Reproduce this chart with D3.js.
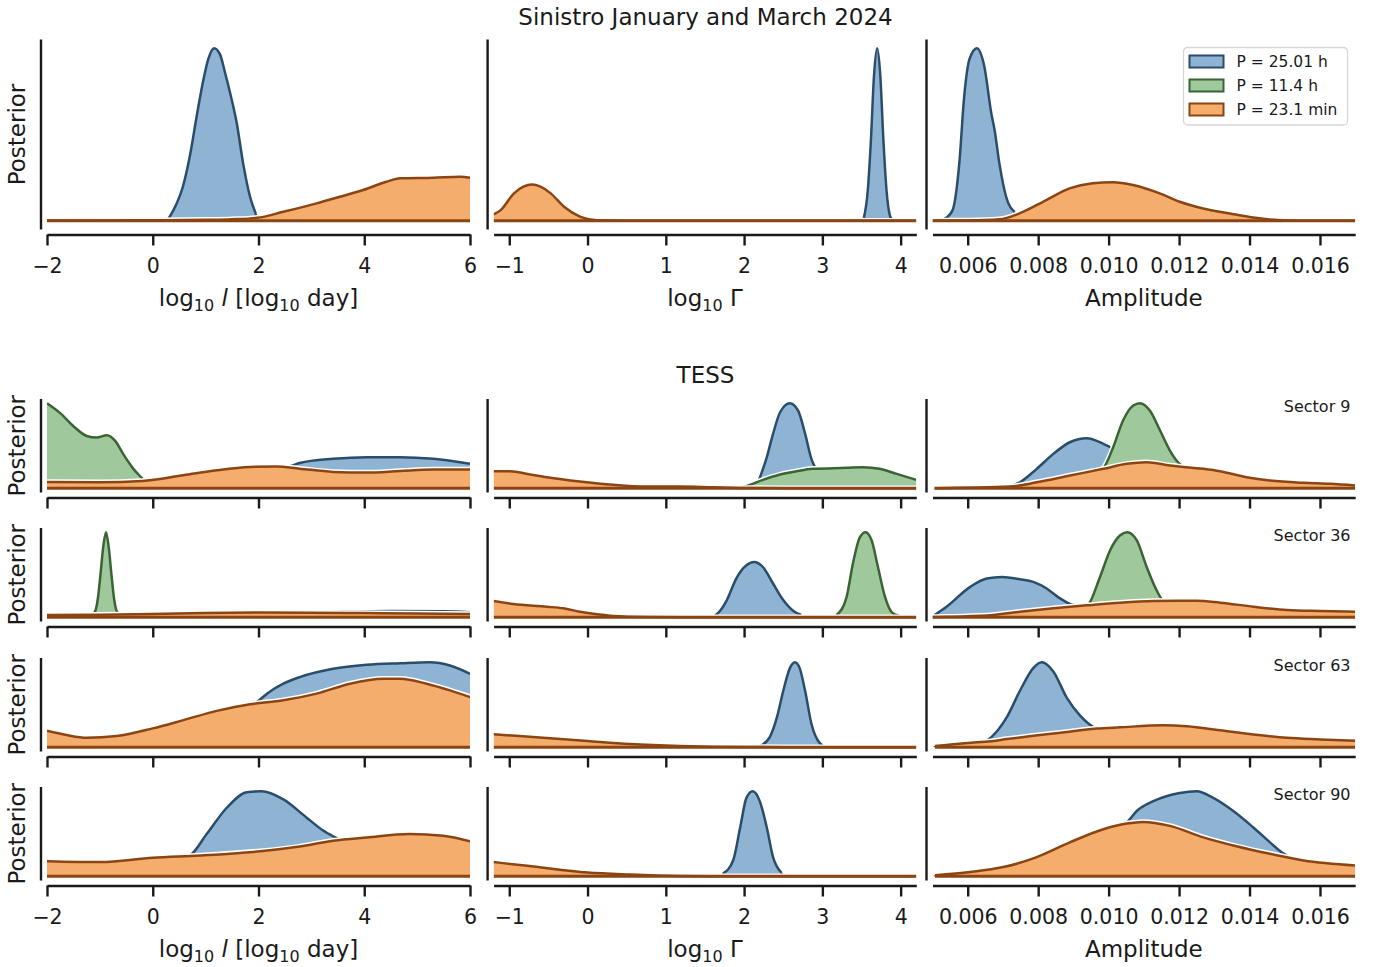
<!DOCTYPE html>
<html>
<head>
<meta charset="utf-8">
<script src="https://cdn.jsdelivr.net/npm/d3@7"></script>
<style>
body { margin: 0; background: #fff; }
svg { font-family: "DejaVu Sans", sans-serif; }
text { white-space: pre; }
</style>
</head>
<body>
<svg id="chart" width="1374" height="967"></svg>
<script>
// ---- axis setup ----
var lenTicks = [-2, 0, 2, 4, 6];
var gamTicks = [-1, 0, 1, 2, 3, 4];
var ampTicks = [0.006, 0.008, 0.010, 0.012, 0.014, 0.016];
var lenDomain = [-2, 6];
var gamDomain = [-1.2, 4.2];
var ampDomain = [0.005, 0.017];

var periods = ["P = 25.01 h", "P = 11.4 h", "P = 23.1 min"];
var sectors = [null, "Sector 9", "Sector 36", "Sector 63", "Sector 90"];

// ---- posterior densities [x, density] (arbitrary units) ----
// Sinistro
var sinLenB = [[0.29,1.5],[0.45,17],[0.57,34],[0.70,64],[0.83,104],[0.96,141],[1.05,161],[1.16,172],[1.27,166],[1.37,147],[1.46,128],[1.59,97],[1.71,57],[1.84,24],[1.95,7]];
var sinLenO = [[-2,0.3],[-1,0.3],[0,0.5],[1,1],[1.5,1.6],[1.97,3],[2.47,9],[3.1,17.4],[3.54,24],[3.98,30.7],[4.42,39],[4.68,42.4],[5.31,43],[5.81,44],[6,43]];
var sinGamB = [[3.53,3],[3.58,30],[3.62,80],[3.66,145],[3.70,172],[3.74,145],[3.78,80],[3.82,30],[3.86,6],[3.88,2]];
var sinGamO = [[-1.2,6.4],[-1.11,10.7],[-0.94,27.4],[-0.82,34],[-0.71,36.3],[-0.6,34],[-0.47,27.4],[-0.30,14],[-0.09,4],[0.12,0.7],[0.5,0.2],[2,0.1],[4.2,0.1]];
var sinAmpB = [[0.00534,2],[0.00557,10.7],[0.00576,57],[0.0059,124],[0.00605,161],[0.00626,172],[0.00647,154],[0.00667,107],[0.00676,91],[0.0069,57],[0.00709,24],[0.00733,9]];
var sinAmpO = [[0.005,0.2],[0.006,0.4],[0.0069,1.5],[0.00747,7.4],[0.00823,20.7],[0.00889,32.3],[0.00955,37.4],[0.01012,38.4],[0.01069,35.7],[0.01145,27.4],[0.01202,19],[0.01268,12.4],[0.01344,7.4],[0.0141,3.4],[0.0148,0.8],[0.0155,0.2],[0.017,0.1]];

// TESS sector 9
var s9LenB = [[2.3,20],[2.6,22.5],[2.78,25.7],[3.41,30],[4.05,31.7],[4.68,31.7],[5.31,30],[6,25]];
var s9LenG = [[-2,86.7],[-1.75,76.6],[-1.5,63.3],[-1.25,53.3],[-1.06,51.7],[-0.87,54],[-0.71,48.3],[-0.56,35],[-0.37,20],[-0.2,10],[-0.15,7]];
var s9LenO = [[-2,6.5],[-1,6],[-0.2,7.5],[0.58,13.3],[1.21,18.3],[1.84,21.7],[2.34,22.3],[2.78,20],[3.41,16.7],[4.05,16],[4.68,17.6],[5.31,19],[6,19]];
var s9GamB = [[2.18,6],[2.29,31],[2.37,54.4],[2.46,76],[2.585,85],[2.69,77.7],[2.78,54.4],[2.86,29.4],[2.9,22],[2.95,15]];
var s9GamG = [[1.9,0.5],[2.0,1.5],[2.24,8.4],[2.46,13.7],[2.67,17],[2.88,19.4],[3.31,20.4],[3.52,21],[3.73,19.4],[3.95,14.4],[4.2,8.4]];
var s9GamO = [[-1.2,17],[-0.99,17],[-0.75,14],[-0.52,11],[-0.1,6.7],[0.33,3.4],[0.75,1.7],[1.18,1.7],[1.6,1],[2.0,0.3],[2.5,0.1],[4.2,0.1]];
var s9AmpB = [[0.0065,0.5],[0.0072,2],[0.00748,6],[0.00796,19.4],[0.00843,34.4],[0.0089,46],[0.00938,50],[0.00985,44.4],[0.01013,39.4],[0.0105,30],[0.011,24],[0.0115,20]];
var s9AmpG = [[0.0097,17],[0.00985,20],[0.01013,41],[0.01041,67.7],[0.0107,82.7],[0.01089,85],[0.01117,77.7],[0.01146,57.7],[0.01174,37.7],[0.01197,26],[0.0121,22]];
var s9AmpO = [[0.00506,0.1],[0.0072,1.7],[0.00796,6],[0.0089,12.7],[0.00985,19.4],[0.01051,24.4],[0.01108,26],[0.01174,22.7],[0.01269,19.4],[0.01316,17],[0.01392,11],[0.01458,7.7],[0.01553,5.4],[0.01629,4.4],[0.017,2.7]];

// TESS sector 36
var s36LenB = [[2.5,4.5],[3.5,5.6],[4.5,6.2],[5.5,5.9],[6,5]];
var s36LenG = [[-1.2,2],[-1.1,5],[-1.04,18],[-0.99,42],[-0.935,71],[-0.884,85],[-0.835,71],[-0.78,42],[-0.73,18],[-0.67,5],[-0.55,2]];
var s36LenO = [[-2,2.2],[-1,2.5],[0,3.2],[1,4.2],[2,4.7],[3,4.6],[4,4.2],[5,3.8],[6,3.3]];
var s36GamB = [[1.63,1.5],[1.70,7],[1.78,17.3],[1.90,39],[2.03,52.3],[2.125,55.6],[2.24,50.6],[2.37,34],[2.50,17.3],[2.63,6.3],[2.73,2.3]];
var s36GamG = [[3.18,2],[3.31,20.6],[3.39,54],[3.48,80.6],[3.55,85.6],[3.63,77.3],[3.71,50.6],[3.80,20.6],[3.90,4],[3.98,1.6]];
var s36GamO = [[-1.2,16.3],[-0.95,13.3],[-0.52,10.6],[-0.31,9],[-0.1,5.6],[0.12,3],[0.33,1.3],[0.75,0.3],[1.2,0.1],[4.2,0.1]];
var s36AmpB = [[0.00506,2.3],[0.0054,10.6],[0.00607,30.6],[0.00654,39],[0.00697,40.6],[0.00748,38.3],[0.00786,35.6],[0.00824,29],[0.00862,19],[0.009,12.3],[0.00938,11.3],[0.0097,9]];
var s36AmpG = [[0.0093,10],[0.00942,12.3],[0.009755,40.6],[0.01004,67.3],[0.01032,82.3],[0.01053,85.6],[0.0108,77.3],[0.01108,50.6],[0.01136,27.3],[0.01155,16.6],[0.0117,15]];
var s36AmpO = [[0.005,0.3],[0.0054,0.5],[0.00654,1.7],[0.00748,5.6],[0.00843,9],[0.00938,12],[0.01032,14.7],[0.01127,16.3],[0.0125,16.6],[0.01316,14.7],[0.01411,10.6],[0.01506,7.3],[0.016,6.3],[0.017,5.6]];

// TESS sector 63
var s63LenB = [[1.8,42],[1.97,45.6],[2.16,54],[2.47,64],[2.78,70.6],[3.41,79],[4.05,83],[4.68,84.6],[5.24,85.6],[5.62,82.3],[6,74]];
var s63LenO = [[-2,16.6],[-1.63,12.3],[-1.25,9.6],[-0.68,11.3],[0,19],[0.58,27.3],[1.21,36.6],[1.84,43.3],[2.47,47.3],[3.10,54],[3.73,64],[4.36,69],[4.68,69],[5.18,64],[5.62,57.3],[6,50.6]];
var s63GamB = [[2.2,1],[2.33,10.6],[2.42,30.6],[2.50,57.3],[2.585,80.6],[2.65,86.6],[2.71,80.6],[2.78,57.3],[2.86,24],[2.97,4],[3.0,2]];
var s63GamO = [[-1.2,13.3],[-0.74,10.6],[0,6.3],[0.54,3.3],[1.18,1.3],[1.6,0.6],[2.0,0.2],[2.5,0.1],[4.2,0.1]];
var s63AmpB = [[0.00649,5.6],[0.00668,10.6],[0.00711,30.6],[0.00748,57.3],[0.00786,80.6],[0.0081,86.6],[0.00843,77.3],[0.00881,50.6],[0.00919,32.3],[0.00966,19],[0.0099,17]];
var s63AmpO = [[0.00507,1.3],[0.00611,4.6],[0.00649,5.6],[0.00711,8.3],[0.00748,10],[0.00786,11.7],[0.00843,14],[0.00881,15.6],[0.00919,17.3],[0.00966,19],[0.01032,20.3],[0.01155,22.3],[0.01222,21.3],[0.01316,17.3],[0.01411,13],[0.01506,9.6],[0.016,8],[0.017,6.6]];

// TESS sector 90
var s90LenB = [[0.6,19.5],[0.70,21],[1.02,42.7],[1.40,69.3],[1.78,85],[2.06,86],[2.47,77.7],[2.91,59.3],[3.23,46],[3.51,37.7],[3.6,35]];
var s90LenO = [[-2,15.3],[-0.99,14.3],[0,18.7],[0.89,21],[2.03,25.3],[2.78,30],[3.41,36],[4.05,39.3],[4.86,42.7],[5.49,41],[6,35.3]];
var s90GamB = [[1.73,2.7],[1.86,16],[1.95,49.3],[2.03,79.3],[2.11,86],[2.20,76],[2.29,49.3],[2.37,19.3],[2.48,3.3]];
var s90GamO = [[-1.2,14.3],[-0.74,10.3],[0,3.7],[0.54,1.7],[1.18,0.3],[1.6,0.1],[4.2,0.1]];
var s90AmpB = [[0.0104,52],[0.01051,54.3],[0.0108,66],[0.01127,76],[0.01202,84.3],[0.0125,86],[0.01297,79.3],[0.01354,66],[0.01411,49.3],[0.01458,34.3],[0.01491,24.3],[0.0151,20]];
var s90AmpO = [[0.00507,1],[0.00607,4.3],[0.00701,9.3],[0.00796,19.3],[0.0089,34.3],[0.00985,47.6],[0.01051,53.3],[0.01098,55],[0.01174,51],[0.01269,39.3],[0.01363,30.3],[0.01458,22.7],[0.01553,16],[0.017,11]];

// panel table: rows x columns, each [P=25.01h, P=11.4h, P=23.1min]
var panels = [
  [[sinLenB, null, sinLenO], [sinGamB, null, sinGamO], [sinAmpB, null, sinAmpO]],
  [[s9LenB, s9LenG, s9LenO], [s9GamB, s9GamG, s9GamO], [s9AmpB, s9AmpG, s9AmpO]],
  [[s36LenB, s36LenG, s36LenO], [s36GamB, s36GamG, s36GamO], [s36AmpB, s36AmpG, s36AmpO]],
  [[s63LenB, null, s63LenO], [s63GamB, null, s63GamO], [s63AmpB, null, s63AmpO]],
  [[s90LenB, null, s90LenO], [s90GamB, null, s90GamO], [s90AmpB, null, s90AmpO]]
];

// ---- layout ----
var fills = ["#8fb4d3", "#9fc89d", "#f5ad6d"];
var edges = ["#2b4d6c", "#3a6434", "#8b4513"];
var ink = "#1a1a1a";
var colLeft = [47, 493.6, 932.5], colRight = [470, 916.3, 1355.2];
var rowTop = [39.5, 399, 528, 658, 787], rowBottom = [229.5, 492.5, 621.5, 751.5, 880.5];
var domains = [lenDomain, gamDomain, ampDomain];
var ticks = [lenTicks, gamTicks, ampTicks];
var fmts = [d3.format("d"), d3.format("d"), d3.format(".3f")];

var svg = d3.select("#chart");

svg.append("text").attr("x", 705.5).attr("y", 24.5).attr("text-anchor", "middle")
  .attr("font-size", 23).attr("fill", ink).text("Sinistro January and March 2024");
svg.append("text").attr("x", 705.5).attr("y", 382.5).attr("text-anchor", "middle")
  .attr("font-size", 23).attr("fill", ink).text("TESS");

function drawSeries(g, pts, k, x, y, dom) {
  var area = d3.area().curve(d3.curveMonotoneX)
    .x(function(d) { return x(d[0]); }).y0(y(0)).y1(function(d) { return y(d[1]); });
  var line = d3.line().curve(d3.curveMonotoneX)
    .x(function(d) { return x(d[0]); }).y(function(d) { return y(d[1]); });
  g.append("path").attr("d", line(pts)).attr("fill", "none").attr("stroke", "#fff").attr("stroke-width", 5.5);
  g.append("path").attr("d", area(pts)).attr("fill", fills[k]);
  g.append("path").attr("d", line(pts)).attr("fill", "none").attr("stroke", edges[k])
    .attr("stroke-width", 2.5).attr("stroke-linejoin", "round");
  var ends = [pts[0], pts[pts.length - 1]];
  ends.forEach(function(p) {
    if (p[0] > dom[0] + 1e-9 && p[0] < dom[1] - 1e-9) {
      g.append("line").attr("x1", x(p[0])).attr("x2", x(p[0]))
        .attr("y1", y(0)).attr("y2", y(p[1]))
        .attr("stroke", edges[k]).attr("stroke-width", 2.5);
    }
  });
  if (k == 2) {
    g.append("line").attr("x1", x(ends[0][0])).attr("x2", x(ends[1][0]))
      .attr("y1", y(0)).attr("y2", y(0))
      .attr("stroke", edges[k]).attr("stroke-width", 3);
  }
}

panels.forEach(function(row, r) {
  row.forEach(function(series, c) {
    var g = svg.append("g");
    var x = d3.scaleLinear().domain(domains[c]).range([colLeft[c], colRight[c]]);
    var M = d3.max(series, function(s) { return s ? d3.max(s, function(d) { return d[1]; }) : 0; });
    var y = d3.scaleLinear().domain([-0.05 * M, 1.05 * M]).range([rowBottom[r], rowTop[r]]);

    var clipId = "clip" + r + "_" + c;
    svg.append("clipPath").attr("id", clipId).append("rect")
      .attr("x", colLeft[c]).attr("y", rowTop[r] - 5)
      .attr("width", colRight[c] - colLeft[c]).attr("height", rowBottom[r] - rowTop[r] + 5);
    var plot = g.append("g").attr("clip-path", "url(#" + clipId + ")");
    [0, 1, 2].forEach(function(k) {
      if (series[k]) drawSeries(plot, series[k], k, x, y, domains[c]);
    });

    // left spine (offset)
    g.append("line").attr("x1", colLeft[c] - 6).attr("x2", colLeft[c] - 6)
      .attr("y1", rowTop[r]).attr("y2", rowBottom[r])
      .attr("stroke", ink).attr("stroke-width", 2.4);

    // bottom axis (offset)
    var showLabels = (r == 0 || r == 4);
    var axis = d3.axisBottom(x).tickValues(ticks[c]).tickSize(11).tickSizeOuter(0).tickPadding(13)
      .tickFormat(showLabels ? fmts[c] : function() { return ""; });
    var ax = g.append("g").attr("transform", "translate(0," + (rowBottom[r] + 5) + ")").call(axis);
    ax.select(".domain").attr("stroke", ink).attr("stroke-width", 2.4);
    ax.selectAll(".tick line").attr("stroke", ink).attr("stroke-width", 2.4);
    ax.selectAll(".tick text").attr("font-size", 20.5).attr("fill", ink)
      .attr("font-family", "DejaVu Sans");

    if (showLabels) {
      var lbl = g.append("text").attr("x", (colLeft[c] + colRight[c]) / 2)
        .attr("y", rowBottom[r] + 5 + 71).attr("text-anchor", "middle")
        .attr("font-size", 23).attr("fill", ink);
      if (c == 0) {
        lbl.append("tspan").text("log");
        lbl.append("tspan").attr("font-size", 16).attr("dy", 5).text("10");
        lbl.append("tspan").attr("dy", -5).text(" ");
        lbl.append("tspan").attr("font-style", "italic").text("l");
        lbl.append("tspan").text(" [log");
        lbl.append("tspan").attr("font-size", 16).attr("dy", 5).text("10");
        lbl.append("tspan").attr("dy", -5).text(" day]");
      } else if (c == 1) {
        lbl.append("tspan").text("log");
        lbl.append("tspan").attr("font-size", 16).attr("dy", 5).text("10");
        lbl.append("tspan").attr("dy", -5).text(" \u0393");
      } else {
        lbl.text("Amplitude");
      }
    }

    if (c == 0) {
      var cy = (rowTop[r] + rowBottom[r]) / 2;
      g.append("text").attr("transform", "translate(25," + cy + ") rotate(-90)")
        .attr("text-anchor", "middle").attr("font-size", 23).attr("fill", ink).text("Posterior");
    }
    if (c == 2 && sectors[r]) {
      g.append("text").attr("x", 1350.5).attr("y", rowTop[r] + 13).attr("text-anchor", "end")
        .attr("font-size", 16).attr("fill", ink).text(sectors[r]);
    }
  });
});

// legend
var leg = svg.append("g");
leg.append("rect").attr("x", 1183.5).attr("y", 47.5).attr("width", 164).attr("height", 77.5)
  .attr("rx", 4).attr("fill", "#fff").attr("fill-opacity", 0.8)
  .attr("stroke", "#d6d6d6").attr("stroke-width", 1.3);
periods.forEach(function(p, k) {
  var cy = 61.5 + k * 24;
  leg.append("rect").attr("x", 1189.5).attr("y", cy - 6).attr("width", 34).attr("height", 12)
    .attr("fill", fills[k]).attr("stroke", edges[k]).attr("stroke-width", 2);
  leg.append("text").attr("x", 1236.5).attr("y", cy).attr("dy", "0.36em")
    .attr("font-size", 15.5).attr("fill", ink).text(p);
});
</script>
</body>
</html>
